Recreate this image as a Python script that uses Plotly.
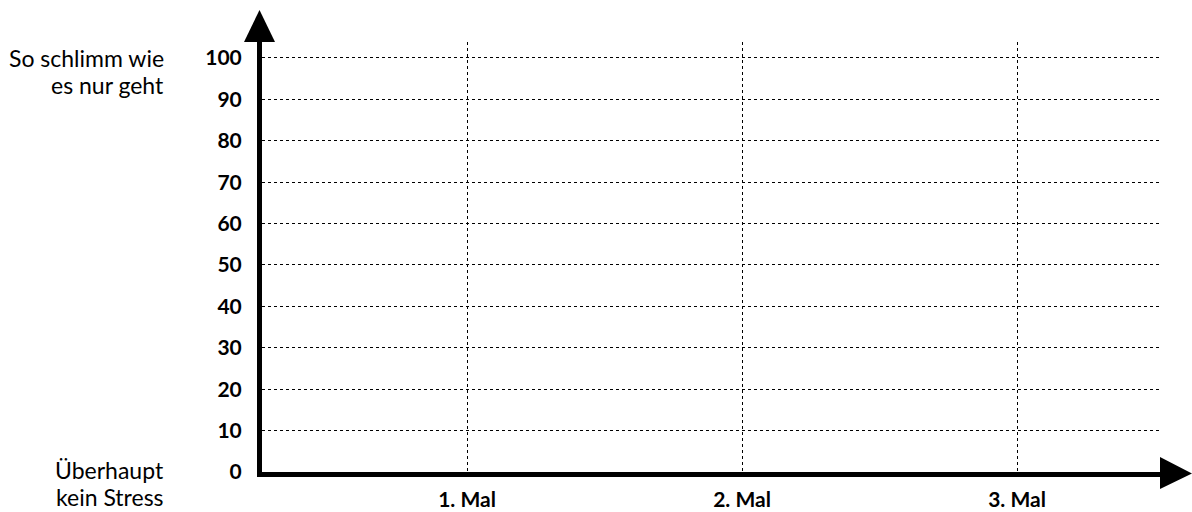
import plotly.graph_objects as go

categories = ["1. Mal", "2. Mal", "3. Mal"]
y_ticks = [0, 10, 20, 30, 40, 50, 60, 70, 80, 90, 100]
top_label = ["So schlimm wie", "es nur geht"]
bottom_label = ["Überhaupt", "kein Stress"]

W, H = 1192, 512
L, R, T, B = 262, 32, 42, 40
pw, ph = W - L - R, H - T - B

def px(x):
    return (x - L) / pw

def py(y):
    return (H - B - y) / ph

FONT = "Lato, Source Sans Pro, Noto Sans, sans-serif"

fig = go.Figure()
fig.add_trace(go.Scatter(x=categories, y=[None] * len(categories), mode="markers",
                         showlegend=False, hoverinfo="skip"))

fig.update_layout(
    width=W, height=H,
    margin=dict(l=L, r=R, t=T, b=B, autoexpand=False),
    paper_bgcolor="white", plot_bgcolor="white",
    font=dict(family=FONT, size=22, color="black"),
    showlegend=False,
    xaxis=dict(
        type="category", range=[-0.7455, 2.52], automargin=False,
        showgrid=True, gridcolor="black", gridwidth=1, griddash="dot",
        showline=True, linecolor="black", linewidth=5,
        ticks="", tickfont=dict(family=FONT, size=21, weight="bold"),
        ticklabelstandoff=5, zeroline=False, fixedrange=True,
    ),
    yaxis=dict(
        range=[0, 103.86], tickvals=y_ticks, ticktext=[str(v) for v in y_ticks],
        automargin=False,
        showgrid=True, gridcolor="black", gridwidth=1, griddash="dot",
        showline=True, linecolor="black", linewidth=5,
        ticks="", tickfont=dict(family=FONT, size=21, weight="bold"),
        ticklabelstandoff=11, zeroline=False, fixedrange=True,
    ),
)

# arrowheads
fig.add_shape(type="path", xref="paper", yref="paper",
              path=f"M {px(244)} {py(42)} L {px(259.5)} {py(10)} L {px(275)} {py(42)} Z",
              fillcolor="black", line=dict(color="black", width=0))
fig.add_shape(type="path", xref="paper", yref="paper",
              path=f"M {px(1160)} {py(457)} L {px(1192)} {py(473.5)} L {px(1160)} {py(489)} Z",
              fillcolor="black", line=dict(color="black", width=0))

for text, yc in zip(top_label, [58, 85]):
    fig.add_annotation(text=text, xref="paper", yref="paper", x=px(166), y=py(yc),
                       xanchor="right", yanchor="middle", showarrow=False,
                       font=dict(family=FONT, size=23))
for text, yc in zip(bottom_label, [470, 497]):
    fig.add_annotation(text=text, xref="paper", yref="paper", x=px(166), y=py(yc),
                       xanchor="right", yanchor="middle", showarrow=False,
                       font=dict(family=FONT, size=23))

fig.write_html("out.html", config={"displayModeBar": False},
               post_script="document.body.style.margin='0';document.body.style.overflow='hidden';")
